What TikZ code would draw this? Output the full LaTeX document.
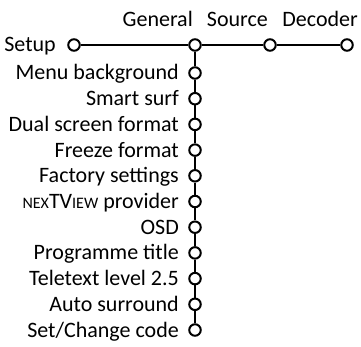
\documentclass[tikz,border=0pt]{standalone}
\usepackage{fontspec}
\setmainfont{Carlito}
\usetikzlibrary{positioning}
\newcommand{\smc}[1]{{\fontsize{16}{18}\selectfont #1}}
\begin{document}
\begin{tikzpicture}[x=1pt,y=-1pt]

	\tikzset{knot/.style={circle, draw, line width=2pt, fill=white,
			minimum size=11.5pt, inner sep=0pt},
		lbl/.style={font=\fontsize{22}{26}\selectfont, inner sep=0pt},
		wire/.style={line width=2pt}
	}

	\useasboundingbox (0,0) rectangle (361,347);

	\node[knot] (setup) at (74,45) {};
	\node[knot] (general) at (195,45) {};
	\node[knot] (source) at (270,45) {};
	\node[knot] (decoder) at (347,45) {};

	\node[lbl, anchor=base east] (tsetup) at (56,52) {Setup};
	\node[lbl, anchor=base east] (tgeneral) at (193,27) {General};
	\node[lbl, anchor=base east] (tsource) at (268,27) {Source};
	\node[lbl, anchor=base east] (tdecoder) at (358,27) {Decoder};

	\foreach \t [count=\i] in {Menu background, Smart surf, Dual screen format,
		Freeze format, Factory settings, \smc{NEX}TV\smc{IEW} provider, OSD,
		Programme title, Teletext level 2.5, Auto surround, Set/Change code}
	{
		\node[knot] (item\i) at (195,{47.3+25.7*\i}) {};
		\node[lbl, anchor=base east] (titem\i) at (179,{54.3+25.7*\i}) {\t};
	}

	\draw[wire] (setup) -- (general) -- (source) -- (decoder);
	\draw[wire] (general) -- (item1);
	\foreach \i [evaluate=\i as \j using int(\i+1)] in {1,...,10}
		\draw[wire] (item\i) -- (item\j);

\end{tikzpicture}
\end{document}
